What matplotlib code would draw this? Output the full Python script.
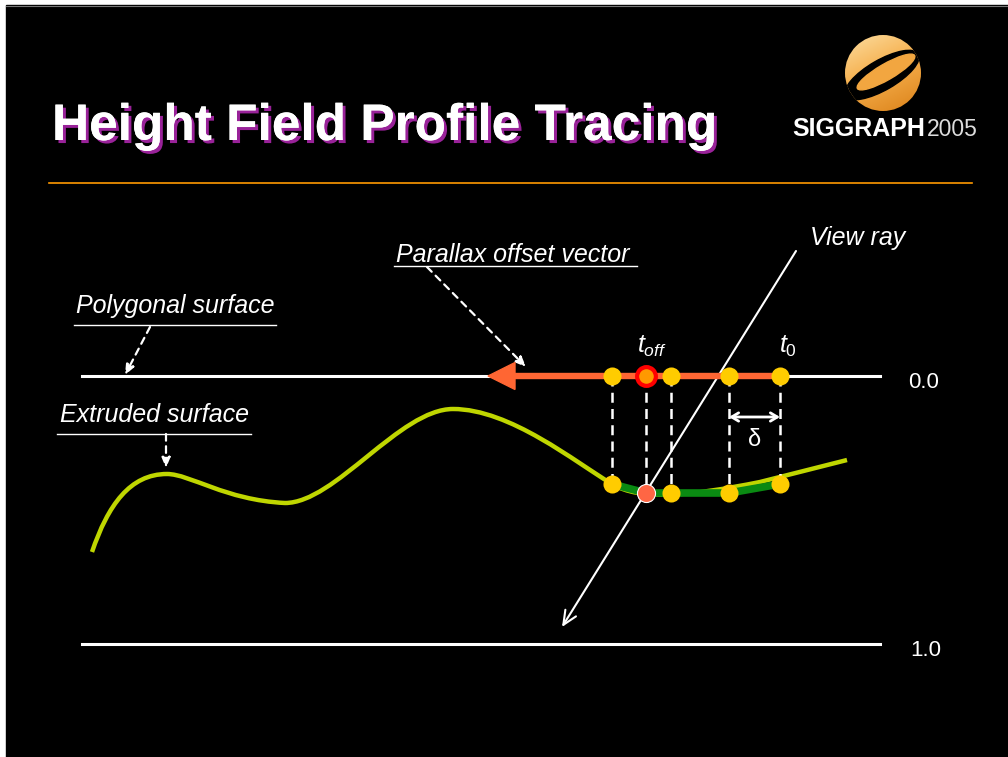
import numpy as np
import matplotlib
matplotlib.use("Agg")
import matplotlib.pyplot as plt
import matplotlib.patheffects as pe
from matplotlib.path import Path
from matplotlib.patches import PathPatch, Rectangle, Circle, Ellipse

plt.rcParams['font.family'] = ['Liberation Sans', 'DejaVu Sans']
plt.rcParams['mathtext.fontset'] = 'custom'
plt.rcParams['mathtext.rm'] = 'Liberation Sans'
plt.rcParams['mathtext.it'] = 'Liberation Sans:italic'

# layout of the slide in pixel units (x right, y down)
surface_y = 376      # depth 0.0
bottom_y = 644       # depth 1.0
depth_labels = ["0.0", "1.0"]
line_x = [82, 880]

# extruded surface profile: cubic bezier control points
curve_pts = [(92, 552), (108, 505), (130, 474), (167, 474),
             (190, 474), (225, 500), (285, 503),
             (335, 503), (400, 409), (453, 409),
             (510, 409), (575, 462), (612, 484),
             (640, 501), (690, 496), (760, 482),
             (847, 460)]

# linear search samples along the offset vector
sample_x = [612, 646, 671, 729, 780]
sample_hit_y = [484, 493, 493, 493, 484]
toff_index = 1

# view ray and parallax offset vector
ray_start = (796, 251)
ray_end = (562, 627)
offset_start_x = 780
offset_end_x = 488

fig = plt.figure(figsize=(10.08, 7.57), dpi=100, facecolor='white')
ax = fig.add_axes([0, 0, 1, 1])
ax.set_xlim(0, 1008)
ax.set_ylim(757, 0)
ax.axis('off')

ax.add_patch(Rectangle((6, 5), 1002, 752, color='black', zorder=0))
ax.plot([6, 1008], [5.5, 5.5], color='#777777', lw=0.8, zorder=1)

# title with purple shadow
title = "Height Field Profile Tracing"
ax.text(52, 140, title, fontsize=37, fontweight='bold', color='white', va='baseline',
        path_effects=[pe.withSimplePatchShadow(offset=(2.2, -2.2), shadow_rgbFace='#992299',
                                               alpha=1.0), pe.Normal()])
ax.plot([49, 972], [183, 183], color='#FF9900', lw=1.2)

# logo
cx, cy, r = 883, 73, 38
circ = Circle((cx, cy), r, transform=ax.transData)
gy, gx = np.mgrid[0:1:100j, 0:1:100j]
grad = np.clip(0.35 * gx + 0.75 * gy, 0, 1)
cmap = matplotlib.colors.LinearSegmentedColormap.from_list(
    'logo', ['#FCDDA0', '#F6B04E', '#E08A22'])
im = ax.imshow(grad, cmap=cmap, extent=(cx - r, cx + r, cy + r, cy - r), zorder=2)
im.set_clip_path(circ)
sw = Ellipse((cx - 1, cy + 2), 84, 30, angle=-30, color='black', zorder=3)
ax.add_patch(sw)
sw.set_clip_path(circ)
inner = Ellipse((cx + 3, cy - 1), 66, 16, angle=-30, color='#F2A640', zorder=4)
ax.add_patch(inner)
inner.set_clip_path(circ)
ax.set_xlim(0, 1008)
ax.set_ylim(757, 0)
ax.text(792, 136, "SIGGRAPH", fontsize=18, fontweight='bold', color='white', va='baseline')
ax.text(927, 136, "2005", fontsize=16.5, color='#dddddd', va='baseline')

# depth lines
ax.plot(line_x, [surface_y, surface_y], color='white', lw=2.2, zorder=5)
ax.plot(line_x, [bottom_y, bottom_y], color='white', lw=2.2, zorder=5)
ax.text(924, surface_y + 6, depth_labels[0], fontsize=16, color='white', ha='center', va='center')
ax.text(926, bottom_y + 6, depth_labels[1], fontsize=16, color='white', ha='center', va='center')

# extruded surface curve
codes = [Path.MOVETO] + [Path.CURVE4] * 15 + [Path.LINETO]
ax.add_patch(PathPatch(Path(curve_pts, codes), fill=False, edgecolor='#BFD600',
                       lw=3.2, capstyle='butt', zorder=6))
ax.plot(sample_x, sample_hit_y, color='#0A8A12', lw=5.5, solid_capstyle='butt', zorder=7)

# dashed projections
for x, y in zip(sample_x, sample_hit_y):
    ax.plot([x, x], [surface_y, y], color='white', lw=1.8, dashes=(4, 2.5), zorder=8)

# view ray
ax.annotate("", xy=ray_end, xytext=ray_start, zorder=9,
            arrowprops=dict(arrowstyle='->, head_length=1.0, head_width=0.45',
                            color='white', lw=1.5, shrinkA=0, shrinkB=0))

# parallax offset vector
ax.arrow(offset_start_x, surface_y, offset_end_x - offset_start_x, 0, width=5,
         head_width=27, head_length=27, length_includes_head=True,
         color='#FF6633', zorder=10)

# sample markers
for i, (x, y) in enumerate(zip(sample_x, sample_hit_y)):
    if i == toff_index:
        ax.plot(x, surface_y, 'o', ms=13.5, mfc='#FF9900', mec='#FF0000', mew=3, zorder=12)
        ax.plot(x, y, 'o', ms=13, mfc='#FF6644', mec='white', mew=0.8, zorder=12)
    else:
        ax.plot(x, surface_y, 'o', ms=13, mfc='#FFCC00', mec='none', zorder=12)
        ax.plot(x, y, 'o', ms=13, mfc='#FFCC00', mec='none', zorder=12)

# delta step
ax.annotate("", xy=(sample_x[3], 417), xytext=(sample_x[4], 417),
            arrowprops=dict(arrowstyle='<->, head_length=0.5, head_width=0.3',
                            color='white', lw=2, shrinkA=0, shrinkB=0))
ax.text(755, 440, "δ", fontsize=17, color='white', ha='center', va='center')
ax.text(sample_x[1] + 6, 353, r"$t_{off}$", fontsize=18, color='white', ha='center', va='baseline')
ax.text(sample_x[4] + 8, 353, r"$t_{\mathit{0}}$", fontsize=18, color='white', ha='center', va='baseline')

# callout labels
lab = dict(fontsize=18, style='italic', color='white', va='baseline')
ax.text(76, 313, "Polygonal surface", **lab)
ax.plot([74, 276], [325, 325], color='white', lw=1)
ax.text(396, 262, "Parallax offset vector", **lab)
ax.plot([394, 637], [266, 266], color='white', lw=1)
ax.text(60, 422, "Extruded surface", **lab)
ax.plot([57, 251], [434, 434], color='white', lw=1)
ax.text(810, 245, "View ray", **lab)

dash_arrow = dict(arrowstyle='-|>, head_length=0.6, head_width=0.25', color='white',
                  lw=1.6, linestyle=(0, (3, 2.5)), shrinkA=0, shrinkB=0)
ax.annotate("", xy=(125, 375), xytext=(150, 327), arrowprops=dash_arrow)
ax.annotate("", xy=(526, 367), xytext=(427, 267), arrowprops=dash_arrow)
ax.annotate("", xy=(166, 468), xytext=(166, 434), arrowprops=dash_arrow)

fig.savefig("out.png", dpi=100, facecolor='white')
